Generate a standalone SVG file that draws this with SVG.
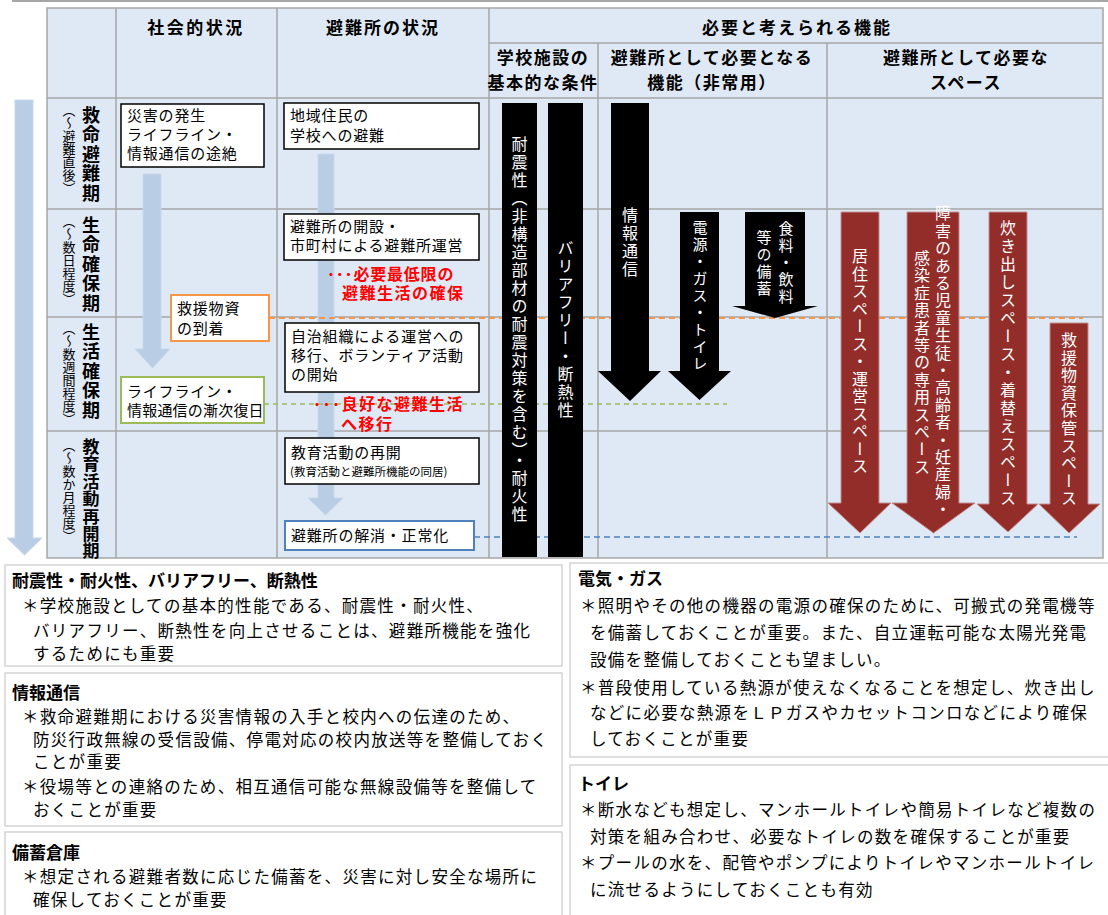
<svg xmlns="http://www.w3.org/2000/svg" width="1108" height="915" viewBox="0 0 1108 915">
<style>
text{font-family:"Noto Sans CJK JP","Noto Sans",sans-serif;fill:#000}
.hd{font-size:17px;font-weight:bold;text-anchor:middle;letter-spacing:1.5px}
.bx{font-size:15px;letter-spacing:0.8px}
.sm{font-size:11.5px}
.red{font-size:16px;font-weight:bold;fill:#FF0000}
.v{writing-mode:vertical-rl}
.rl{font-size:18px;font-weight:bold;letter-spacing:1.5px}
.rs{font-size:13px;letter-spacing:0px}
.wt{fill:#fff;font-size:16px;letter-spacing:2px;text-anchor:middle}
.grid{stroke:#A6A6A6;stroke-width:1.5;fill:none}
.wbox{fill:#fff;stroke:#000;stroke-width:1.5}
.lb{fill:#B9CDE5;stroke:#C9D8EA;stroke-width:1}
.blk{fill:#000}
.dr{fill:#922D2A;stroke:#C58E8C;stroke-width:1}
.note{fill:#fff;stroke:#D4D4D4;stroke-width:1.5}
.nt{font-size:17px;font-weight:bold}
.nb{font-size:16.5px;letter-spacing:1.3px}
</style>
<line x1="12" y1="1" x2="1108" y2="1" stroke="#A6A6A6" stroke-width="2"/>
<g id="table">
<rect x="47" y="8" width="1056" height="550" fill="#DFE9F5"/>
<path class="grid" d="M47,8H1103V558H47Z M116,8V558 M277,8V558 M489,8V558 M598,43V558 M827,43V558 M489,43H1103 M47,98H1103 M47,209H1103 M47,317H1103 M47,431H1103"/>
<text class="hd" x="196" y="34" style="letter-spacing:2.5px">社会的状況</text>
<text class="hd" x="383" y="34" style="letter-spacing:2px">避難所の状況</text>
<text class="hd" x="797" y="34" style="letter-spacing:2px">必要と考えられる機能</text>
<text class="hd" x="543" y="64">学校施設の</text>
<text class="hd" x="543" y="89">基本的な条件</text>
<text class="hd" x="712" y="64">避難所として必要となる</text>
<text class="hd" x="712" y="89">機能（非常用）</text>
<text class="hd" x="966" y="64">避難所として必要な</text>
<text class="hd" x="966" y="89">スペース</text>
</g>
<g id="row-labels">
<text class="v rl" x="91" y="106">救命避難期</text>
<text class="v rs" x="69" y="104">（～避難直後）</text>
<text class="v rl" x="91" y="216">生命確保期</text>
<text class="v rs" x="69" y="215">（～数日程度）</text>
<text class="v rl" x="91" y="323">生活確保期</text>
<text class="v rs" x="69" y="322">（～数週間程度）</text>
<text class="v rl" x="91" y="438" style="font-size:17px;letter-spacing:0.4px">教育活動再開期</text>
<text class="v rs" x="69" y="439">（～数か月程度）</text>
</g>
<g id="connectors">
<path id="timeline-arrow" class="lb" d="M15,100H33V538H42L24.5,555L7,538H15Z"/>
<path id="social-arrow" class="lb" d="M143,174H161V349H170L152.5,368L135,349H143Z"/>
<path id="shelter-arrow" class="lb" d="M318,154H334V498H343L325.5,515L308,498H318Z"/>
<line x1="269" y1="318" x2="1083" y2="318" stroke="#F79646" stroke-width="2" stroke-dasharray="6 4"/>
<line x1="264" y1="404" x2="727" y2="404" stroke="#9BBB59" stroke-width="1.5" stroke-dasharray="5 4"/>
<line x1="474" y1="537" x2="1077" y2="537" stroke="#4F81BD" stroke-width="1.5" stroke-dasharray="6 4"/>
</g>
<g id="n-disaster"><rect class="wbox" x="121" y="104" width="143" height="63"/>
<text class="bx" x="127" y="121">災害の発生</text><text class="bx" x="127" y="140">ライフライン・</text><text class="bx" x="127" y="159">情報通信の途絶</text></g>
<g id="n-relief"><rect x="171" y="295" width="98" height="46" fill="#fff" stroke="#F79646" stroke-width="2"/>
<text class="bx" x="177" y="314">救援物資</text><text class="bx" x="177" y="334">の到着</text></g>
<g id="n-recover"><rect x="121" y="377" width="143" height="46" fill="#fff" stroke="#9BBB59" stroke-width="2"/>
<text class="bx" x="127" y="397">ライフライン・</text><text class="bx" x="127" y="416" style="letter-spacing:0.2px">情報通信の漸次復日</text></g>
<g id="n-evac"><rect class="wbox" x="284" y="103" width="195" height="46"/>
<text class="bx" x="290" y="121">地域住民の</text><text class="bx" x="290" y="141">学校への避難</text></g>
<g id="n-open"><rect class="wbox" x="284" y="214" width="195" height="46"/>
<text class="bx" x="290" y="232">避難所の開設・</text><text class="bx" x="290" y="251">市町村による避難所運営</text></g>
<g id="n-min"><text class="red" x="327" y="280" style="letter-spacing:0.8px">･･･必要最低限の</text><text class="red" x="342" y="299" style="letter-spacing:1.5px">避難生活の確保</text></g>
<g id="n-self"><rect class="wbox" x="285" y="323" width="194" height="69"/>
<text class="bx" x="291" y="342">自治組織による運営への</text><text class="bx" x="291" y="361">移行、ボランティア活動</text><text class="bx" x="291" y="380">の開始</text></g>
<g id="n-good"><text class="red" x="313" y="410" style="letter-spacing:1.5px">･･･良好な避難生活</text><text class="red" x="341" y="430" style="letter-spacing:1.5px">へ移行</text></g>
<g id="n-edu"><rect class="wbox" x="285" y="438" width="194" height="46"/>
<text class="bx" x="291" y="458">教育活動の再開</text><text class="sm" x="290" y="476">(教育活動と避難所機能の同居)</text></g>
<g id="n-close"><rect x="285" y="521" width="189" height="29" fill="#fff" stroke="#4F81BD" stroke-width="2"/>
<text class="bx" x="291" y="541">避難所の解消・正常化</text></g>
<g id="n-quake"><rect class="blk" x="502" y="103" width="35" height="454"/>
<text class="v wt" x="519.5" y="330">耐震性（非構造部材の耐震対策を含む）・耐火性</text></g>
<g id="n-barrier"><rect class="blk" x="548" y="103" width="35" height="454"/>
<text class="v wt" x="565.5" y="330">バリアフリー・断熱性</text></g>
<g id="n-info"><path class="blk" d="M611,103H649V371H661L630,401L598,371H611Z"/>
<text class="v wt" x="630" y="243">情報通信</text></g>
<g id="n-power"><path class="blk" d="M680,212H719V371H731L699.5,400L668,371H680Z"/>
<text class="v wt" x="700" y="296" style="font-size:15px">電源・ガス・トイレ</text></g>
<g id="n-food"><path class="blk" d="M745,212H805V306H818L775,318L732,306H745Z"/>
<text class="v wt" x="786" y="263" style="font-size:15px">食料・飲料</text>
<text class="v wt" x="764" y="264" style="font-size:15px">等の備蓄</text></g>
<g id="n-living"><path class="dr" d="M841,212H879V503H891L860,533L828,503H841Z"/>
<text class="v wt" x="860" y="362" style="letter-spacing:1.5px">居住スペース・運営スペース</text></g>
<g id="n-special"><path class="dr" d="M907,212H959V503H975L933.5,533L892,503H907Z"/>
<text class="v wt" x="943" y="362" style="letter-spacing:1.4px">障害のある児童生徒・高齢者・妊産婦・</text>
<text class="v wt" x="922" y="363" style="letter-spacing:1.4px">感染症患者等の専用スペース</text></g>
<g id="n-cook"><path class="dr" d="M989,212H1027V504H1038L1008,532L977,504H989Z"/>
<text class="v wt" x="1008" y="364">炊き出しスペース・着替えスペース</text></g>
<g id="n-store"><path class="dr" d="M1050,323H1088V504H1100L1069,533L1039,504H1050Z"/>
<text class="v wt" x="1069" y="420" style="letter-spacing:1.6px">救援物資保管スペース</text></g>
<g id="note-structure"><rect class="note" x="5" y="565" width="557" height="101"/>
<text class="nt" x="12" y="587">耐震性・耐火性、バリアフリー、断熱性</text>
<text class="nb" x="22" y="612">＊学校施設としての基本的性能である、耐震性・耐火性、</text>
<text class="nb" x="33" y="637">バリアフリー、断熱性を向上させることは、避難所機能を強化</text>
<text class="nb" x="33" y="660">するためにも重要</text></g>
<g id="note-info"><rect class="note" x="5" y="673" width="557" height="153"/>
<text class="nt" x="12" y="699">情報通信</text>
<text class="nb" x="22" y="723">＊救命避難期における災害情報の入手と校内への伝達のため、</text>
<text class="nb" x="33" y="746">防災行政無線の受信設備、停電対応の校内放送等を整備しておく</text>
<text class="nb" x="33" y="768">ことが重要</text>
<text class="nb" x="22" y="793">＊役場等との連絡のため、相互通信可能な無線設備等を整備して</text>
<text class="nb" x="33" y="816">おくことが重要</text></g>
<g id="note-stock"><rect class="note" x="5" y="832" width="557" height="90"/>
<text class="nt" x="12" y="859">備蓄倉庫</text>
<text class="nb" x="22" y="883">＊想定される避難者数に応じた備蓄を、災害に対し安全な場所に</text>
<text class="nb" x="33" y="906">確保しておくことが重要</text></g>
<g id="note-power"><rect class="note" x="570" y="563" width="545" height="194"/>
<text class="nt" x="578" y="585">電気・ガス</text>
<text class="nb" x="580" y="612">＊照明やその他の機器の電源の確保のために、可搬式の発電機等</text>
<text class="nb" x="590" y="639">を備蓄しておくことが重要。また、自立運転可能な太陽光発電</text>
<text class="nb" x="590" y="666">設備を整備しておくことも望ましい。</text>
<text class="nb" x="580" y="694">＊普段使用している熱源が使えなくなることを想定し、炊き出し</text>
<text class="nb" x="590" y="719">などに必要な熱源をＬＰガスやカセットコンロなどにより確保</text>
<text class="nb" x="590" y="745">しておくことが重要</text></g>
<g id="note-toilet"><rect class="note" x="570" y="765" width="545" height="160"/>
<text class="nt" x="578" y="790">トイレ</text>
<text class="nb" x="580" y="816">＊断水なども想定し、マンホールトイレや簡易トイレなど複数の</text>
<text class="nb" x="590" y="843">対策を組み合わせ、必要なトイレの数を確保することが重要</text>
<text class="nb" x="580" y="869">＊プールの水を、配管やポンプによりトイレやマンホールトイレ</text>
<text class="nb" x="590" y="896">に流せるようにしておくことも有効</text></g>
</svg>
